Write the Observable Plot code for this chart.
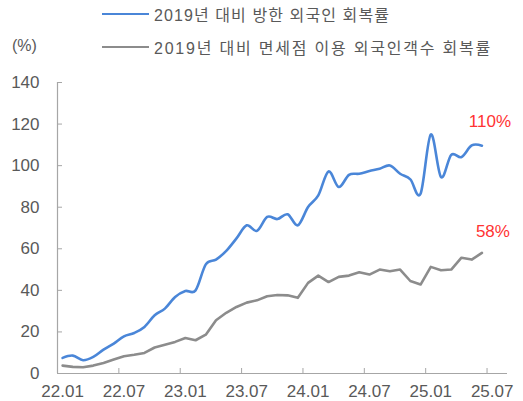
<!DOCTYPE html>
<html><head><meta charset="utf-8">
<script src="https://cdn.jsdelivr.net/npm/d3@7"></script>
<script src="https://cdn.jsdelivr.net/npm/@observablehq/plot@0.6"></script>
<style>
body{margin:0;background:#fff;}
#wrap{position:relative;width:523px;height:401px;font-family:"Liberation Sans","Noto Sans CJK KR",sans-serif;}
.leg{position:absolute;left:102px;height:20px;display:flex;align-items:center;font-size:16px;color:#595959;white-space:nowrap;}
.leg .sw{display:inline-block;width:47px;height:2.5px;margin-right:5px;}
#unit{position:absolute;left:12px;top:37px;font-size:16px;color:#595959;}
#chart{position:absolute;left:0;top:0;}
</style></head>
<body>
<div id="wrap">
  <div id="chart"></div>
  <div id="unit">(%)</div>
  <div id="legend"></div>
</div>
<script>
// categories on the x axis (monthly, YY.MM)
const categories = ["22.01","22.02","22.03","22.04","22.05","22.06","22.07","22.08","22.09","22.10","22.11","22.12",
  "23.01","23.02","23.03","23.04","23.05","23.06","23.07","23.08","23.09","23.10","23.11","23.12",
  "24.01","24.02","24.03","24.04","24.05","24.06","24.07","24.08","24.09","24.10","24.11","24.12",
  "25.01","25.02","25.03","25.04","25.05","25.06","25.07","25.08"];
const xTickLabels = ["22.01","22.07","23.01","23.07","24.01","24.07","25.01","25.07"];
const yTicks = [0, 20, 40, 60, 80, 100, 120, 140];
const seriesNames = ["2019년 대비 방한 외국인 회복률", "2019년 대비 면세점 이용 외국인객수 회복률"];
const seriesColors = ["#4a86d8", "#8c8c8c"];
// 2019 대비 방한 외국인 회복률 (22.01 ~ 25.06)
const visitors = [7.5, 8.6, 6.4, 8.0, 11.5, 14.4, 17.9, 19.5, 22.4, 28.0, 31.2, 36.8,
  39.7, 40.0, 52.5, 54.8, 59.0, 65.0, 71.3, 68.6, 75.3, 74.3, 76.6, 71.3,
  80.1, 85.7, 97.2, 89.7, 95.6, 96.1, 97.4, 98.5, 100.1, 96.1, 93.4, 86.5,
  115.0, 94.5, 105.2, 104.1, 109.7, 109.6];
// 2019 대비 면세점 이용 외국인객수 회복률 (22.01 ~ 25.06)
const dutyFree = [3.8, 3.2, 3.0, 3.8, 5.1, 6.7, 8.3, 9.0, 9.9, 12.5, 13.8, 15.2,
  17.1, 16.0, 18.7, 25.6, 29.2, 32.0, 34.1, 35.2, 37.2, 37.8, 37.6, 36.4,
  43.6, 47.1, 44.0, 46.5, 47.1, 48.7, 47.6, 50.0, 49.2, 50.0, 44.5, 42.8,
  51.3, 49.7, 50.0, 55.7, 54.8, 58.0];

const rowsA = visitors.map((v, i) => ({i, v}));
const rowsB = dutyFree.map((v, i) => ({i, v}));
const lastA = [rowsA[rowsA.length - 1]];
const lastB = [rowsB[rowsB.length - 1]];
const tickIdx = xTickLabels.map(l => categories.indexOf(l));
const axisColor = "#a6a6a6";

// legend (text stretched to the reference widths)
const legendWidths = [236, 338];
const legend = document.getElementById("legend");
seriesNames.forEach((name, k) => {
  const d = document.createElement("div");
  d.className = "leg";
  d.style.top = (k === 0 ? 4 : 37) + "px";
  d.innerHTML = `<span class="sw" style="background:${seriesColors[k]}"></span><span class="lt">${name}</span>`;
  legend.appendChild(d);
  const t = d.querySelector(".lt");
  const w = t.getBoundingClientRect().width;
  const n = name.length;
  t.style.letterSpacing = ((legendWidths[k] - w) / n) + "px";
});

const chart = Plot.plot({
  width: 523, height: 401,
  marginLeft: 57, marginRight: 16, marginTop: 82, marginBottom: 28,
  x: {type: "linear", domain: [-0.5, categories.length - 0.5]},
  y: {domain: [0, 140]},
  style: {fontFamily: '"Liberation Sans","Noto Sans CJK KR",sans-serif', fontSize: "17px", color: "#595959", background: "transparent"},
  marks: [
    Plot.ruleX([-0.5], {stroke: axisColor, strokeWidth: 1.2}),
    Plot.ruleY([0], {stroke: axisColor, strokeWidth: 1.2}),
    Plot.tickY(yTicks, {y: d => d, stroke: axisColor, insetRight: 445}),
    Plot.tickX(tickIdx, {x: d => d - 0.5, stroke: axisColor, insetTop: 286}),
    Plot.axisY({ticks: yTicks, tickSize: 0, tickPadding: 18, tickFormat: d => d, label: null, fontSize: 17}),
    Plot.axisX({ticks: tickIdx, tickSize: 0, tickPadding: 11, tickFormat: i => categories[i], label: null, fontSize: 17}),
    Plot.line(rowsB, {x: "i", y: "v", stroke: seriesColors[1], strokeWidth: 2.6}),
    Plot.line(rowsA, {x: "i", y: "v", stroke: seriesColors[0], strokeWidth: 2.6, curve: "cardinal"}),
    Plot.text(lastA, {x: "i", y: "v", text: d => `${Math.round(d.v)}%`, dx: 8, dy: -24, fill: "#ff3333", fontSize: 17}),
    Plot.text(lastB, {x: "i", y: "v", text: d => `${Math.round(d.v)}%`, dx: 11, dy: -21, fill: "#ff3333", fontSize: 17})
  ]
});
document.getElementById("chart").appendChild(chart);
</script>
</body></html>
